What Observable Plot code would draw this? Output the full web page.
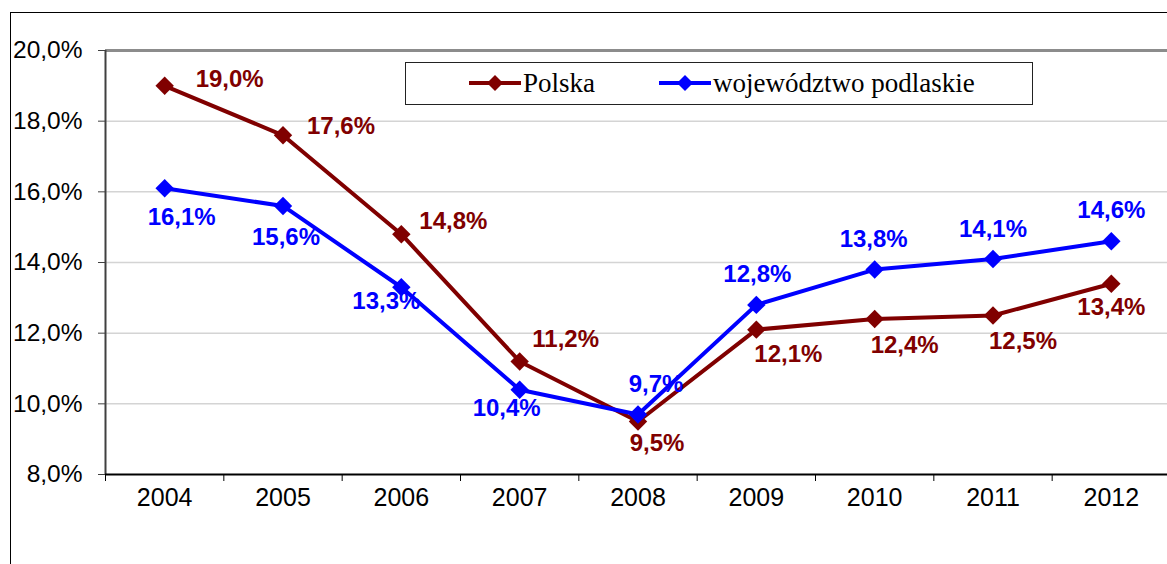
<!DOCTYPE html>
<html>
<head>
<meta charset="utf-8">
<script src="https://cdn.jsdelivr.net/npm/d3@7"></script>
<script src="https://cdn.jsdelivr.net/npm/@observablehq/plot@0.6"></script>
<style>
  html, body { margin: 0; padding: 0; background: #fff; }
  #wrap { position: relative; width: 1167px; height: 564px; overflow: hidden; }
  #frame { position: absolute; left: 10px; top: 12px; width: 1200px; height: 600px; border-left: 1.5px solid #000; border-top: 1.5px solid #000; box-sizing: border-box; }
  #chart { position: absolute; left: 0; top: 0; }
  #legend { position: absolute; left: 405px; top: 62px; width: 628px; height: 43px; border: 1.5px solid #222; box-sizing: border-box; background: #fff; font-family: "Liberation Serif", "Times New Roman", serif; font-size: 27px; color: #000; }
  .item { position: absolute; top: 0; height: 40px; display: flex; align-items: center; }
  .item svg { margin-right: 2px; }
</style>
</head>
<body>
<div id="wrap">
  <div id="frame"></div>
  <div id="chart"></div>
  <div id="legend"></div>
</div>
<script>
const years = [2004, 2005, 2006, 2007, 2008, 2009, 2010, 2011, 2012];
const polska = [19.0, 17.6, 14.8, 11.2, 9.5, 12.1, 12.4, 12.5, 13.4];
const podlaskie = [16.1, 15.6, 13.3, 10.4, 9.7, 12.8, 13.8, 14.1, 14.6];
const yTicks = [8, 10, 12, 14, 16, 18, 20];
const seriesNames = ["Polska", "województwo podlaskie"];

const colPL = "#800000";
const colPD = "#0000ff";
const fmt = v => v.toFixed(1).replace(".", ",") + "%";

const rows = years.map((yr, i) => ({year: yr, polska: polska[i], podlaskie: podlaskie[i]}));
const bounds = [years[0] - 0.5, ...years.map(y => y + 0.5)];

// label offsets (pixels) for each point
const offPL = [[65,-7],[58,-9],[52,-13],[46,-22],[19,22],[32,25],[30,26],[30,26],[0,24]];
const offPD = [[17,29],[3,31],[-15,14],[-13,19],[18,-30],[1,-31],[-1,-30],[0,-30],[0,-31]];

const labelMarks = [];
rows.forEach((r, i) => {
  labelMarks.push(Plot.text([r], {x: "year", y: "polska", text: d => fmt(d.polska), fill: colPL, fontWeight: "bold", fontSize: 24, dx: offPL[i][0], dy: offPL[i][1]}));
  labelMarks.push(Plot.text([r], {x: "year", y: "podlaskie", text: d => fmt(d.podlaskie), fill: colPD, fontWeight: "bold", fontSize: 24, dx: offPD[i][0], dy: offPD[i][1]}));
});

const chart = Plot.plot({
  width: 1167,
  height: 564,
  marginLeft: 105,
  marginTop: 50,
  marginBottom: 90,
  marginRight: 0,
  x: {domain: [bounds[0], bounds[bounds.length - 1]], range: [105, 1170], label: null},
  y: {domain: [8, 20], range: [474, 50], label: null},
  style: {fontFamily: "'Liberation Sans', Arial, sans-serif", fontSize: "24px", background: "transparent", color: "#000"},
  marks: [
    Plot.ruleY(yTicks.filter(v => v > 8 && v < 20), {stroke: "#d4d4d4", strokeWidth: 1.5}),
    Plot.ruleY([20], {stroke: "#8c8c8c", strokeWidth: 3}),
    Plot.ruleX([bounds[0]], {y1: 8, y2: 20, stroke: "#404040", strokeWidth: 2}),
    Plot.ruleY([8], {stroke: "#000", strokeWidth: 2}),
    Plot.axisY(yTicks, {tickSize: 7, tickPadding: 16, tickFormat: fmt, fontSize: 24.5, stroke: "#404040", label: null}),
    Plot.axisX(bounds, {tickSize: 7, tickFormat: () => "", stroke: "#000", label: null}),
    Plot.axisX(years, {tickSize: 0, tickPadding: 14, tickFormat: d => String(d), fontSize: 25, label: null}),
    Plot.line(rows, {x: "year", y: "polska", stroke: colPL, strokeWidth: 4}),
    Plot.dot(rows, {x: "year", y: "polska", symbol: "diamond2", r: 8.3, fill: colPL, stroke: "none"}),
    Plot.line(rows, {x: "year", y: "podlaskie", stroke: colPD, strokeWidth: 4}),
    Plot.dot(rows, {x: "year", y: "podlaskie", symbol: "diamond2", r: 8.3, fill: colPD, stroke: "none"}),
    ...labelMarks
  ]
});
chart.style.overflow = "visible";
document.getElementById("chart").appendChild(chart);

// legend
const legend = document.getElementById("legend");
const legendItems = [
  {name: seriesNames[0], color: colPL, left: 63},
  {name: seriesNames[1], color: colPD, left: 253}
];
legendItems.forEach(it => {
  const div = document.createElement("div");
  div.className = "item";
  div.style.left = it.left + "px";
  div.innerHTML = `<svg width="52" height="18"><line x1="0" y1="9" x2="52" y2="9" stroke="${it.color}" stroke-width="4"/><path d="M26,1 L34,9 L26,17 L18,9 Z" fill="${it.color}"/></svg><span>${it.name}</span>`;
  legend.appendChild(div);
});
</script>
</body>
</html>
